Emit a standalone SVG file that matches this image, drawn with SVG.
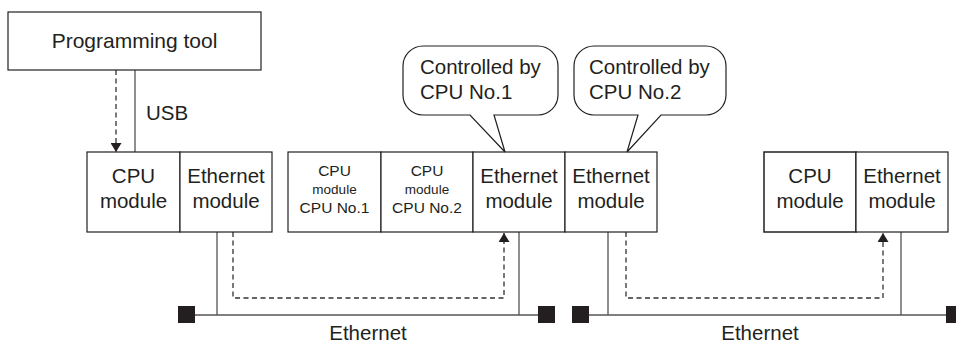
<svg xmlns="http://www.w3.org/2000/svg" width="956" height="343" viewBox="0 0 956 343">
<style>
text{font-family:"Liberation Sans",Arial,sans-serif;fill:#231f20}
.big{font-size:20.5px;text-anchor:middle}
.sm{font-size:15.5px;text-anchor:middle}
.smm{font-size:13.5px;text-anchor:middle}
.lbl{font-size:20.5px}
.box{fill:#fff;stroke:#231f20;stroke-width:1.2}
.ln{fill:none;stroke:#333;stroke-width:1.1}
.bus{fill:none;stroke:#555;stroke-width:1.6}
.dash{fill:none;stroke:#333;stroke-width:1.3;stroke-dasharray:5 3.5}
.term{fill:#231f20}
</style>
<defs>
<marker id="ah" viewBox="0 0 9 11" refX="9" refY="5.5" markerWidth="9" markerHeight="11" markerUnits="userSpaceOnUse" orient="auto">
<path d="M0,0 L9,5.5 L0,11 Z" fill="#231f20"/>
</marker>
</defs>
<g id="connectors">
<path class="dash" d="M116 70 V152" marker-end="url(#ah)"/>
<path class="ln" d="M135 70 V152"/>
<path class="ln" d="M217 232 V315"/>
<path class="ln" d="M519 232 V315"/>
<path class="ln" d="M608 232 V315"/>
<path class="ln" d="M901 232 V315"/>
<path class="bus" d="M195 315 H538"/>
<path class="bus" d="M589 315 H946"/>
<rect class="term" x="178" y="306" width="17" height="17"/>
<rect class="term" x="538" y="306" width="17" height="17"/>
<rect class="term" x="572" y="306" width="17" height="17"/>
<rect class="term" x="946" y="306" width="17" height="17"/>
<path class="dash" d="M233 232 V298 H504 V233" marker-end="url(#ah)"/>
<path class="dash" d="M626 232 V298 H883 V233" marker-end="url(#ah)"/>
<text class="lbl" x="146" y="120">USB</text>
<text class="big" x="368" y="340">Ethernet</text>
<text class="big" x="760" y="340">Ethernet</text>
</g>
<g id="programming-tool">
<rect class="box" x="8" y="12" width="253" height="58"/>
<text class="big" x="134.5" y="48" style="font-size:21px">Programming tool</text>
</g>
<g id="cpu1">
<rect class="box" x="87" y="152" width="93" height="80"/>
<text class="big" x="133.5" y="183">CPU</text>
<text class="big" x="133.5" y="208">module</text>
</g>
<g id="eth1">
<rect class="box" x="180" y="152" width="92" height="80"/>
<text class="big" x="226" y="183">Ethernet</text>
<text class="big" x="226" y="208">module</text>
</g>
<g id="cpu-no1">
<rect class="box" x="288" y="152" width="93" height="80"/>
<text class="sm" x="334.5" y="176">CPU</text>
<text class="smm" x="334.5" y="194">module</text>
<text class="sm" x="334.5" y="213">CPU No.1</text>
</g>
<g id="cpu-no2">
<rect class="box" x="381" y="152" width="92" height="80"/>
<text class="sm" x="427" y="176">CPU</text>
<text class="smm" x="427" y="194">module</text>
<text class="sm" x="427" y="213">CPU No.2</text>
</g>
<g id="eth2">
<rect class="box" x="473" y="152" width="92" height="80"/>
<text class="big" x="519" y="183">Ethernet</text>
<text class="big" x="519" y="208">module</text>
</g>
<g id="eth3">
<rect class="box" x="565" y="152" width="92" height="80"/>
<text class="big" x="611" y="183">Ethernet</text>
<text class="big" x="611" y="208">module</text>
</g>
<g id="cpu3">
<rect class="box" x="764" y="152" width="92" height="80" style="stroke-width:1.5"/>
<text class="big" x="810" y="183">CPU</text>
<text class="big" x="810" y="208">module</text>
</g>
<g id="eth4">
<rect class="box" x="856" y="152" width="92" height="80"/>
<text class="big" x="902" y="183">Ethernet</text>
<text class="big" x="902" y="208">module</text>
</g>
<g id="callout1">
<path class="box" d="M423 46 H538 A20 20 0 0 1 558 66 V95 A20 20 0 0 1 538 115 H494 L505 152 L470 115 H423 A20 20 0 0 1 403 95 V66 A20 20 0 0 1 423 46 Z"/>
<text class="lbl" x="420" y="74">Controlled by</text>
<text class="lbl" x="420" y="99">CPU No.1</text>
</g>
<g id="callout2">
<path class="box" d="M594 46 H706 A20 20 0 0 1 726 66 V95 A20 20 0 0 1 706 115 H661 L627 152 L638 115 H594 A20 20 0 0 1 574 95 V66 A20 20 0 0 1 594 46 Z"/>
<text class="lbl" x="589" y="74">Controlled by</text>
<text class="lbl" x="589" y="99">CPU No.2</text>
</g>
</svg>
